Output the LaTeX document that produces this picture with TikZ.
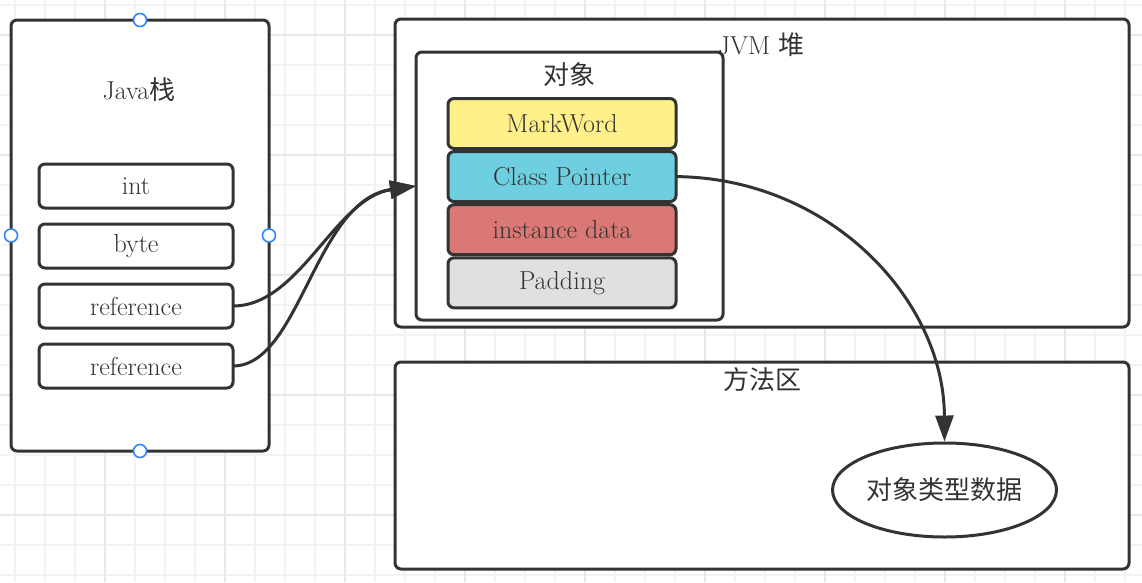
\documentclass[tikz,border=0pt]{standalone}
\usepackage{fontspec}
\newfontfamily\cjk{Noto Sans CJK SC}
\usetikzlibrary{shapes.geometric,arrows.meta,positioning}
\definecolor{ink}{HTML}{333333}
\definecolor{handleblue}{HTML}{3385FF}
\definecolor{gridlight}{HTML}{F3F3F3}
\definecolor{griddark}{HTML}{E8E8E8}
\definecolor{markyellow}{HTML}{FFF08A}
\definecolor{ptrcyan}{HTML}{6ECFE0}
\definecolor{datared}{HTML}{D97874}
\definecolor{padgray}{HTML}{E0E0E0}

\begin{document}
\begin{tikzpicture}[x=1pt,y=-1pt,
      box/.style={rectangle, rounded corners=6pt, draw=ink, line width=3pt, fill=white, inner sep=0pt, outer sep=0pt, text=ink, font=\fontsize{26}{30}\selectfont},
      slot/.style={box, minimum width=194pt, minimum height=44pt, node distance=60pt},
      field/.style={box, minimum width=228pt, minimum height=50pt, node distance=53.1pt},
      boxtitle/.style={inner sep=0pt, text=ink, font=\fontsize{26}{30}\selectfont},
      handle/.style={circle, draw=handleblue, fill=white, line width=1.6pt, minimum size=13pt, inner sep=0pt},
      pfeil/.style={-{Triangle[length=26pt,width=18pt]}, draw=ink, line width=3pt},
      gridline/.style={draw=gridlight, line width=1.5pt},
      gridbold/.style={draw=griddark, line width=2pt}]

\useasboundingbox (0,0) rectangle (1142,582);
\fill[white] (0,0) rectangle (1142,582);
\foreach \x in {15,45,...,1125} \draw[gridline] (\x,0) -- (\x,582);
\foreach \y in {5,35,...,575} \draw[gridline] (0,\y) -- (1142,\y);
\foreach \x in {105,225,...,1065} \draw[gridbold] (\x,0) -- (\x,582);
\foreach \y in {35,155,...,515} \draw[gridbold] (0,\y) -- (1142,\y);

% Java stack
\node[box, minimum width=258pt, minimum height=431pt] (stack) at (140,235.5) {};
\node[boxtitle] (stacktitle) at (139,90) {Java{\cjk 栈}};
\node[slot] (int) at (136,186) {int};
\node[slot, below of=int] (byte) {byte};
\node[slot, below of=byte] (ref1) {reference};
\node[slot, below of=ref1] (ref2) {reference};

% heap
\node[box, minimum width=734pt, minimum height=308pt] (heap) at (762,173) {};
\node[boxtitle] (heaptitle) at (761,45) {JVM {\cjk 堆}};
\node[box, minimum width=307pt, minimum height=268pt] (obj) at (569.5,186) {};
\node[boxtitle] (objtitle) at (569,75) {\cjk 对象};
\node[field, fill=markyellow] (mark) at (562,123.5) {MarkWord};
\node[field, fill=ptrcyan, below of=mark] (ptr) {Class Pointer};
\node[field, fill=datared, below of=ptr] (data) {instance data};
\node[field, fill=padgray, below of=data] (pad) {Padding};

% method area
\node[box, minimum width=734pt, minimum height=207pt] (method) at (762,465.5) {};
\node[boxtitle] (methodtitle) at (762,380) {\cjk 方法区};
\node[ellipse, draw=ink, line width=3pt, fill=white, inner sep=0pt, minimum width=224pt, minimum height=94pt, text=ink, font=\fontsize{26}{30}\selectfont] (typedata) at (944.5,490) {\cjk 对象类型数据};

\draw[pfeil] (ref1.east) .. controls (300,306) and (335,198) .. (obj.west);
\draw[pfeil] (ref2.east) .. controls (300,366) and (315,200) .. (obj.west);
\draw[pfeil] (ptr.east) .. controls (830,178) and (944,300) .. (typedata.north);

\node[handle] (htop) at (stack.north) {};
\node[handle] (hbottom) at (stack.south) {};
\node[handle] (hleft) at (stack.west) {};
\node[handle] (hright) at (stack.east) {};

\end{tikzpicture}
\end{document}
